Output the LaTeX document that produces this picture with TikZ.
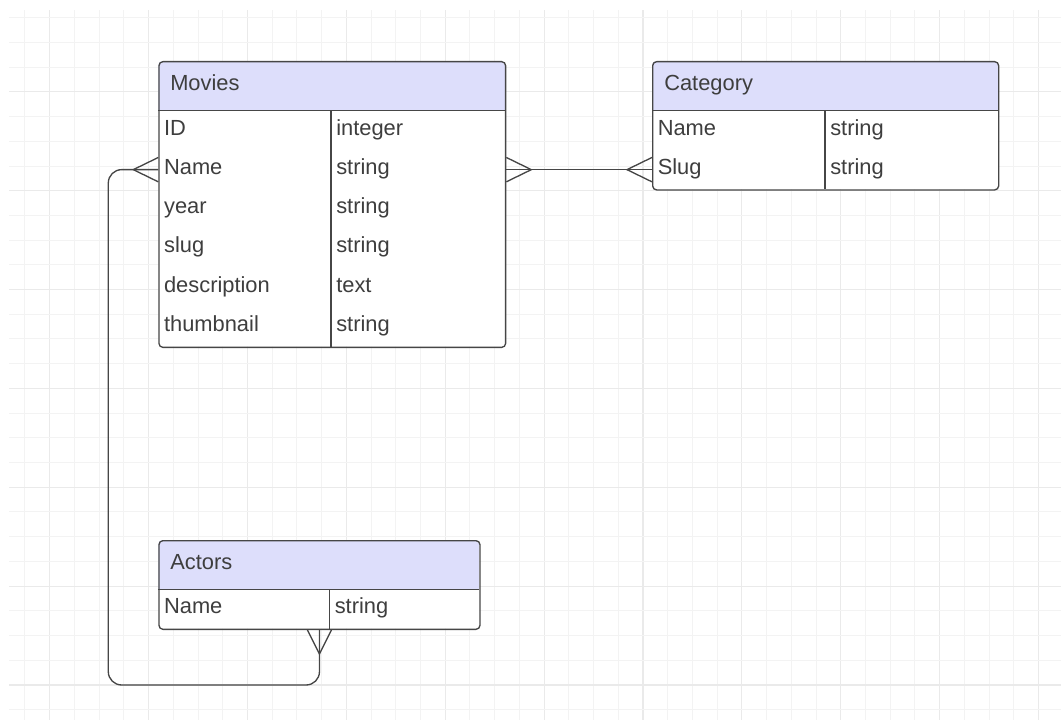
\documentclass[tikz,border=0pt]{standalone}
\usepackage{fontspec}
\setmainfont{Liberation Sans}
\definecolor{hdrfill}{RGB}{221,222,251}
\definecolor{boxline}{RGB}{70,70,70}
\definecolor{txt}{RGB}{62,62,62}
\definecolor{gridmin}{RGB}{243,243,243}
\definecolor{gridmaj}{RGB}{234,234,234}
\begin{document}
\begin{tikzpicture}[x=0.75pt,y=-0.75pt,
  tbl/.style={draw=boxline, line width=1pt, rounded corners=3pt, anchor=north west, inner sep=0pt},
  cell/.style={anchor=west, inner sep=0pt, minimum height=29.5pt, text height=9.5pt, text depth=2.4pt,
    font=\fontsize{16.4}{19}\selectfont, text=txt},
  sep/.style={draw=boxline, line width=1pt},
  conn/.style={draw=boxline, line width=1pt},
  gmin/.style={draw=gridmin, line width=0.75pt},
  gmaj/.style={draw=gridmaj, line width=0.9pt}]
\useasboundingbox (0,0) rectangle (1061,720);
% grid
\begin{scope}
\clip (9,10) rectangle (1061,720);
\foreach \i in {-2,...,41} {
  \pgfmathsetmacro\gx{49.7+24.72*\i}
  \pgfmathtruncatemacro\m{mod(\i+100,4)}
  \ifnum\m=0 \draw[gmaj] (\gx,10) -- (\gx,720); \else \draw[gmin] (\gx,10) -- (\gx,720); \fi
}
\foreach \j in {-4,...,26} {
  \pgfmathsetmacro\gy{91.9+24.71*\j}
  \pgfmathtruncatemacro\m{mod(\j+100,4)}
  \ifnum\m=0 \draw[gmaj] (9,\gy) -- (1061,\gy); \else \draw[gmin] (9,\gy) -- (1061,\gy); \fi
}
\end{scope}
% white bodies and header fills
\fill[white, rounded corners=3pt] (158.3,61) rectangle (505,346.7);
\fill[white, rounded corners=3pt] (652,61) rectangle (998,189.3);
\fill[white, rounded corners=3pt] (158.3,540) rectangle (479.3,628.7);
\begin{scope}
\clip[rounded corners=3pt] (158.3,61) rectangle (505,346.7);
\fill[hdrfill] (158.3,61) rectangle (505,110.7);
\end{scope}
\begin{scope}
\clip[rounded corners=3pt] (652,61) rectangle (998,189.3);
\fill[hdrfill] (652,61) rectangle (998,110.7);
\end{scope}
\begin{scope}
\clip[rounded corners=3pt] (158.3,540) rectangle (479.3,628.7);
\fill[hdrfill] (158.3,540) rectangle (479.3,589.3);
\end{scope}
% Movies table
\node[tbl, minimum width=260pt, minimum height=214.3pt] (movies) at (158.3,61) {};
\draw[sep] (158.3,110.7) -- (505,110.7);
\draw[sep] (331,110.7) -- (331,346.7);
\node[cell] (movH) at (170,85.85) {Movies};
\node[cell] (mID) at (163.8,130.35) {ID};
\node[cell] (mName) at (163.8,169.65) {Name};
\node[cell] (mYear) at (163.8,208.95) {year};
\node[cell] (mSlug) at (163.8,248.25) {slug};
\node[cell] (mDesc) at (163.8,287.55) {description};
\node[cell] (mThumb) at (163.8,326.85) {thumbnail};
\node[cell] (mIDt) at (336,130.35) {integer};
\node[cell] (mNamet) at (336,169.65) {string};
\node[cell] (mYeart) at (336,208.95) {string};
\node[cell] (mSlugt) at (336,248.25) {string};
\node[cell] (mDesct) at (336,287.55) {text};
\node[cell] (mThumbt) at (336,326.85) {string};
% Category table
\node[tbl, minimum width=259.5pt, minimum height=96.2pt] (category) at (652,61) {};
\draw[sep] (652,110.7) -- (998,110.7);
\draw[sep] (825,110.7) -- (825,189.3);
\node[cell] (catH) at (664,85.85) {Category};
\node[cell] (cName) at (657.5,130.35) {Name};
\node[cell] (cSlug) at (657.5,169.65) {Slug};
\node[cell] (cNamet) at (830,130.35) {string};
\node[cell] (cSlugt) at (830,169.65) {string};
% Actors table
\node[tbl, minimum width=240.75pt, minimum height=66.5pt] (actors) at (158.3,540) {};
\draw[sep] (158.3,589.3) -- (479.3,589.3);
\draw[sep] (329.3,589.3) -- (329.3,628.7);
\node[cell] (actH) at (170,564.65) {Actors};
\node[cell] (aName) at (163.8,609) {Name};
\node[cell] (aNamet) at (334.5,609) {string};
% connectors
\draw[conn] (movies.east |- mName) -- (category.west |- cSlug);
\draw[conn] (movies.east |- mName) ++(0,-12.2) -- ++(25,12.2) -- ++(-25,12.2);
\draw[conn] (category.west |- cSlug) ++(0,-12.2) -- ++(-25,12.2) -- ++(25,12.2);
\coordinate (loopBL) at (108.3,685);
\draw[conn, rounded corners=10pt] (movies.west |- mName) -| (loopBL) -| (actors.south);
\draw[conn] (movies.west |- mName) ++(0,-12.2) -- ++(-25,12.2) -- ++(25,12.2);
\draw[conn] (actors.south) ++(-12,0) -- ++(12,24) -- ++(12,-24);
\end{tikzpicture}
\end{document}
